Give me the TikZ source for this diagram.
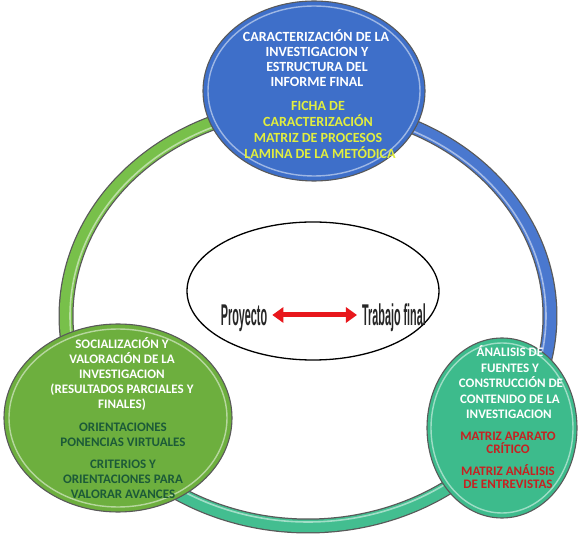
\documentclass[tikz,border=0pt]{standalone}
\usepackage{fontspec}
\setmainfont{Carlito}
\newfontfamily\narrowfont{Liberation Sans}
\usetikzlibrary{shapes.geometric,arrows.meta}
\definecolor{blueC}{HTML}{3E6FC9}
\definecolor{ringBlue}{HTML}{4A78CF}
\definecolor{yellowT}{HTML}{E2EE3E}
\definecolor{greenC}{HTML}{6DAF3E}
\definecolor{ringGreen}{HTML}{78C04A}
\definecolor{darkGreenT}{HTML}{1C5A38}
\definecolor{tealC}{HTML}{3DBB8C}
\definecolor{ringTeal}{HTML}{43BE90}
\definecolor{redT}{HTML}{C62121}
\definecolor{arrowRed}{HTML}{E8171C}
\newcommand{\ringpart}[3]{%
  \draw[ringedge] plot[domain=#1:#2,samples=80,smooth] ({308+242*cos(\x)},{316+210*sin(\x)});
  \draw[ringfill,draw=#3] plot[domain=#1:#2,samples=80,smooth] ({308+242*cos(\x)},{316+210*sin(\x)});
  \draw[stripe] plot[domain=#1:#2,samples=80,smooth] ({308+238*cos(\x)},{316+206*sin(\x)});
}
\begin{document}
\begin{tikzpicture}[x=1pt,y=-1pt,
  bubble/.style={ellipse, draw=black!65, line width=1.1pt, inner sep=0},
  hl/.style={draw=white, opacity=0.5, line width=1.4pt},
  ringedge/.style={line width=15pt, draw=black!65},
  ringfill/.style={line width=12.5pt},
  stripe/.style={line width=1.6pt, draw=white, opacity=0.5},
  lbl/.style={anchor=base, inner sep=0, font=\bfseries\fontsize{13}{15}\selectfont},
  lblbig/.style={lbl, font=\bfseries\fontsize{14}{15}\selectfont},
  bigword/.style={anchor=base, inner sep=0, text=black!85, font=\narrowfont\bfseries\fontsize{30}{30}\selectfont},
  redarrow/.style={draw=arrowRed, line width=5pt, {Triangle[length=11pt,width=15pt]}-{Triangle[length=11pt,width=15pt]}}
]
\useasboundingbox (0,0) rectangle (579,537);
\fill[white] (0,0) rectangle (579,537);

% ring
\ringpart{150}{255}{ringGreen}
\ringpart{-70}{45}{ringBlue}
\ringpart{40}{130}{ringTeal}

% circles
\node[bubble, fill=blueC, minimum width=222, minimum height=180] (top) at (314,91) {};
\draw[hl] (top.center) ellipse [x radius=106, y radius=85];
\node[bubble, fill=greenC, minimum width=228, minimum height=188] (left) at (118,418) {};
\draw[hl] (left.center) ellipse [x radius=109, y radius=89];
\node[bubble, fill=tealC, minimum width=150, minimum height=180] (right) at (502,428) {};
\draw[hl] (right.center) ellipse [x radius=71, y radius=85];

% center ellipse
\node[ellipse, draw=black, line width=1.3pt, fill=white, minimum width=252, minimum height=138] (mid) at (313,291) {};
\node[bigword] (proj) at (244,326) {\scalebox{0.36}[1]{Proyecto}};
\node[bigword] (trab) at (394,326) {\scalebox{0.36}[1]{Trabajo final}};
\draw[redarrow] ([shift={(5,-11)}]proj.base east) -- ([shift={(-5,-11)}]trab.base west);

% top texts
\node[lblbig, text=white] (tw1) at (316,42) {CARACTERIZACIÓN DE LA};
\node[lblbig, text=white] (tw2) at (317,57) {INVESTIGACION Y};
\node[lblbig, text=white] (tw3) at (317,72) {ESTRUCTURA DEL};
\node[lblbig, text=white] (tw4) at (317,87) {INFORME FINAL};
\node[lblbig, text=yellowT] (ty1) at (318,111) {FICHA DE};
\node[lblbig, text=yellowT] (ty2) at (318,127) {CARACTERIZACIÓN};
\node[lblbig, text=yellowT] (ty3) at (318,143) {MATRIZ DE PROCESOS};
\node[lblbig, text=yellowT] (ty4) at (320,159) {LAMINA DE LA METÓDICA};

% left texts
\node[lbl, text=white] (lw1) at (122,349) {SOCIALIZACIÓN Y};
\node[lbl, text=white] (lw2) at (122,364) {VALORACIÓN DE LA};
\node[lbl, text=white] (lw3) at (122,379) {INVESTIGACION};
\node[lbl, text=white] (lw4) at (122,394) {(RESULTADOS PARCIALES Y};
\node[lbl, text=white] (lw5) at (122,409) {FINALES)};
\node[lbl, text=darkGreenT] (lg1) at (123,432) {ORIENTACIONES};
\node[lbl, text=darkGreenT] (lg2) at (123,447) {PONENCIAS VIRTUALES};
\node[lbl, text=darkGreenT] (lg3) at (123,469) {CRITERIOS Y};
\node[lbl, text=darkGreenT] (lg4) at (123,484) {ORIENTACIONES PARA};
\node[lbl, text=darkGreenT] (lg5) at (123,499) {VALORAR AVANCES};

% right texts
\node[lbl, text=white] (rw1) at (510,357) {ÁNALISIS DE};
\node[lbl, text=white] (rw2) at (510,372.5) {FUENTES Y};
\node[lbl, text=white] (rw3) at (511,388) {CONSTRUCCIÓN DE};
\node[lbl, text=white] (rw4) at (510,403.5) {CONTENIDO DE LA};
\node[lbl, text=white] (rw5) at (509,419) {INVESTIGACION};
\node[lbl, text=redT] (rr1) at (508,441) {MATRIZ APARATO};
\node[lbl, text=redT] (rr2) at (508,454) {CRÍTICO};
\node[lbl, text=redT] (rr3) at (508,476) {MATRIZ ANÁLISIS};
\node[lbl, text=redT] (rr4) at (508,489) {DE ENTREVISTAS};
\end{tikzpicture}
\end{document}
